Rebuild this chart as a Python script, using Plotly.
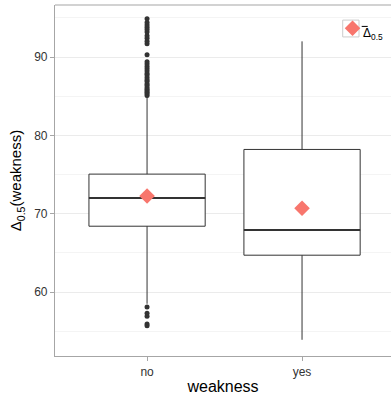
import plotly.graph_objects as go

categories = ["no", "yes"]
q1 = [68.4, 64.7]
median = [72.0, 67.9]
q3 = [75.05, 78.2]
lower_whisker = [58.5, 53.9]
upper_whisker = [84.9, 92.0]
means = [72.25, 70.7]

outliers_no = [85.1, 85.3, 85.5, 85.7, 85.9, 86.1, 86.4, 86.6, 86.9, 87.1, 87.4,
               87.7, 87.9, 88.2, 88.5, 88.8, 89.1, 89.4, 90.3, 91.7, 92.0, 92.4,
               92.7, 93.2, 93.5, 93.8, 94.1, 94.4, 94.9,
               58.1, 57.3, 56.9, 55.9, 55.7]

y_ticks = [60, 70, 80, 90]
legend_label = "Δ<sub>0.5</sub>"

fig = go.Figure()

# main boxes
fig.add_trace(go.Box(
    x=categories, q1=q1, median=median, q3=q3,
    lowerfence=lower_whisker, upperfence=upper_whisker,
    fillcolor="white", line=dict(color="#333333", width=1),
    width=0.75, whiskerwidth=0, boxpoints=False, showlegend=False, hoverinfo="skip",
))
# thicker median line
fig.add_trace(go.Box(
    x=categories, q1=median, median=median, q3=median,
    lowerfence=median, upperfence=median,
    fillcolor="rgba(0,0,0,0)", line=dict(color="#333333", width=2),
    width=0.75, whiskerwidth=0, boxpoints=False, showlegend=False, hoverinfo="skip",
))
# outliers
fig.add_trace(go.Scatter(
    x=[categories[0]] * len(outliers_no), y=outliers_no, mode="markers",
    marker=dict(color="#333333", size=5), showlegend=False, hoverinfo="skip",
))
# means
fig.add_trace(go.Scatter(
    x=categories, y=means, mode="markers",
    marker=dict(symbol="diamond", color="#F8766D", size=12),
    name=" ", showlegend=True,
))

# legend key box
fig.add_shape(type="rect", xref="paper", yref="paper",
              x0=0.8563, x1=0.9048, y0=0.909, y1=0.957,
              line=dict(color="#cccccc", width=1), fillcolor="white", layer="below")
# overline over the Δ in the legend label
fig.add_shape(type="line", xref="paper", yref="paper",
              x0=0.9128, x1=0.9307, y0=0.939, y1=0.939,
              line=dict(color="black", width=1))
# top panel border
fig.add_shape(type="line", xref="paper", yref="paper", x0=0, x1=1, y0=1, y1=1,
              line=dict(color="#a6a6a6", width=1.2))

fig.add_annotation(xref="paper", yref="paper", x=0.912, y=0.917,
                   xanchor="left", yanchor="middle", showarrow=False,
                   text=legend_label, font=dict(size=12, color="black"))

fig.update_layout(
    width=391, height=395,
    margin=dict(l=55, r=0, t=5, b=39),
    paper_bgcolor="white", plot_bgcolor="white",
    font=dict(family="Liberation Sans, Arial, sans-serif", size=12, color="#333333"),
    showlegend=True,
    legend=dict(x=0.826, y=0.975, xanchor="left", yanchor="top",
                bgcolor="rgba(0,0,0,0)", borderwidth=0, font=dict(size=12)),
    xaxis=dict(
        type="category", range=[-0.594, 1.574],
        showline=True, linecolor="#a6a6a6", linewidth=1.2,
        ticks="outside", ticklen=4, tickcolor="#a6a6a6",
        showgrid=False, zeroline=False,
        tickfont=dict(size=12, color="#333333"),
        title=dict(text="weakness", font=dict(size=16, color="black"), standoff=3),
        automargin=False,
    ),
    yaxis=dict(
        range=[51.83, 96.64],
        tickvals=y_ticks,
        showline=True, linecolor="#a6a6a6", linewidth=1.2,
        ticks="outside", ticklen=4, tickcolor="#a6a6a6",
        showgrid=True, gridcolor="#EBEBEB", gridwidth=1,
        minor=dict(dtick=10, tick0=55, showgrid=True, gridcolor="#F4F4F4", gridwidth=0.6),
        zeroline=False,
        tickfont=dict(size=12, color="#333333"),
        title=dict(text="Δ<sub>0.5</sub>(weakness)", font=dict(size=15, color="black"), standoff=8),
        automargin=False,
    ),
)

fig.write_html("out.html", config={"displayModeBar": False},
               post_script="document.body.style.margin='0';document.body.style.overflow='hidden';")
